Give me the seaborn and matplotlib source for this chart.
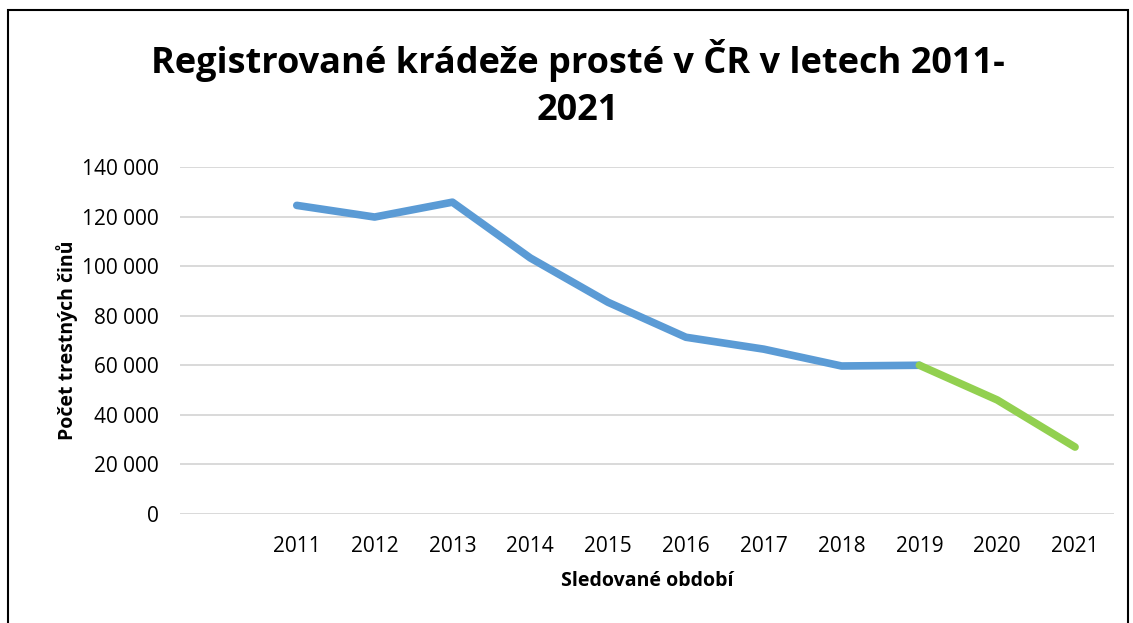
import matplotlib
matplotlib.use('Agg')
import matplotlib.pyplot as plt
import matplotlib.patches as patches
import matplotlib.ticker as mticker
import seaborn as sns
import pandas as pd

# Data
years = ['2011', '2012', '2013', '2014', '2015', '2016', '2017', '2018', '2019', '2020', '2021']
counts = [124500, 119800, 125800, 103300, 85400, 71300, 66500, 59700, 60000, 46000, 27000]
split_year = '2019'  # line turns green from here on

sns.set_theme(style='white')
plt.rcParams['font.family'] = ['Open Sans', 'DejaVu Sans']
plt.rcParams['text.color'] = 'black'
plt.rcParams['axes.labelcolor'] = 'black'

df = pd.DataFrame({'year': years, 'count': counts})
df['pos'] = range(1, len(years) + 1)  # slot 0 is left empty, as in the original
cut = years.index(split_year)
df_blue = df.iloc[:cut + 1]
df_green = df.iloc[cut:]

fig = plt.figure(figsize=(11.33, 6.23), dpi=100)
ax = fig.add_axes([0.1589, 0.175, 0.8243, 0.557])

sns.lineplot(data=df_blue, x='pos', y='count', color='#5B9BD5', linewidth=5.5,
             solid_capstyle='round', solid_joinstyle='round', ax=ax)
sns.lineplot(data=df_green, x='pos', y='count', color='#92D050', linewidth=5.5,
             solid_capstyle='round', solid_joinstyle='round', ax=ax)

ax.set_xlim(-0.5, len(years) + 0.5)
ax.set_ylim(0, 140000)
ax.set_xticks(df['pos'])
ax.set_xticklabels(years)
ax.yaxis.set_major_locator(mticker.MultipleLocator(20000))
ax.yaxis.set_major_formatter(mticker.FuncFormatter(lambda v, p: f'{int(v):,}'.replace(',', ' ')))
ax.grid(axis='y', color='#D9D9D9', linewidth=1.4)
ax.set_axisbelow(True)
for s in ax.spines.values():
    s.set_visible(False)
ax.tick_params(axis='both', length=0, labelsize=15, colors='black')
ax.tick_params(axis='x', pad=16)
ax.tick_params(axis='y', pad=15)

ax.set_xlabel('Sledované období', fontsize=14, fontweight='bold', labelpad=10)
ax.set_ylabel('Počet trestných činů', fontsize=14, fontweight='bold', labelpad=3)

fig.text(0.51, 0.865, 'Registrované krádeže prosté v ČR v letech 2011-\n2021',
         ha='center', va='center', fontsize=26, fontweight='bold', linespacing=1.38)

# frame around the chart area
fig.add_artist(patches.Rectangle((8 / 1133, -0.05), 1120 / 1133, 1 - 10 / 623 + 0.05,
                                 transform=fig.transFigure, fill=False,
                                 edgecolor='black', linewidth=1.5))

fig.savefig('out.png', dpi=100)
